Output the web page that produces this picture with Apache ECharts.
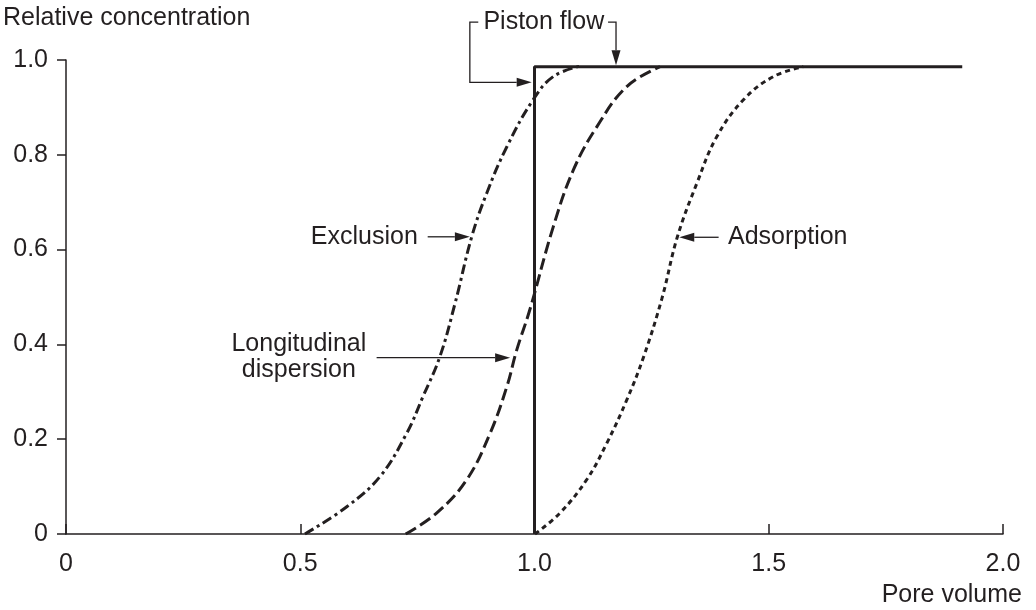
<!DOCTYPE html>
<html>
<head>
<meta charset="utf-8">
<script src="https://cdn.jsdelivr.net/npm/echarts@6/dist/echarts.min.js"></script>
<style>
  html, body { margin: 0; background: #fff; }
  #chart { width: 1036px; height: 610px; }
</style>
</head>
<body>
<div id="chart"></div>
<script>
// breakthrough curves
const pistonX = [1.0, 1.0, 1.913]
const pistonY = [0, 0.986, 0.986]

const exclusionX = [0.51, 0.60, 0.67, 0.727, 0.762, 0.798, 0.830, 0.866, 0.898, 0.941, 0.997, 1.040, 1.097]
const exclusionY = [0, 0.058, 0.121, 0.212, 0.290, 0.374, 0.485, 0.627, 0.719, 0.817, 0.916, 0.965, 0.987]

const dispersionX = [0.725, 0.791, 0.855, 0.905, 0.941, 0.962, 0.990, 1.040, 1.083, 1.133, 1.197, 1.268]
const dispersionY = [0, 0.044, 0.114, 0.212, 0.311, 0.388, 0.473, 0.648, 0.768, 0.859, 0.944, 0.986]

const adsorptionX = [1.001, 1.054, 1.111, 1.154, 1.197, 1.233, 1.272, 1.305, 1.347, 1.389, 1.446, 1.510, 1.574]
const adsorptionY = [0, 0.044, 0.114, 0.191, 0.283, 0.374, 0.497, 0.627, 0.741, 0.838, 0.916, 0.965, 0.986]

const xTicks = [0, 0.5, 1.0, 1.5, 2.0]
const yTicks = [0, 0.2, 0.4, 0.6, 0.8, 1.0]

// callout texts in data units: [text, x, y, align]
const calloutTexts = [
  ['Exclusion', 0.751, 0.627, 'right'],
  ['Longitudinal\ndispersion', 0.497, 0.373, 'center'],
  ['Adsorption', 1.413, 0.626, 'left'],
  ['Piston flow', 1.020, 1.080, 'center'],
]

// callout leaders in data units, arrowhead at the last point
const calloutPaths = [
  [[0.772, 0.627], [0.862, 0.627]],
  [[0.663, 0.372], [0.948, 0.372]],
  [[1.393, 0.626], [1.309, 0.626]],
  [[0.880, 1.080], [0.862, 1.080], [0.862, 0.953], [0.994, 0.953]],
  [[1.157, 1.080], [1.174, 1.080], [1.174, 0.989]],
]

const ink = '#231f20'
const font = "'Liberation Sans', Arial, sans-serif"
const fontSize = 25

function pairs(xs, ys) {
  return xs.map((x, i) => [x, ys[i]])
}

function tickLabel(v) {
  return v === 0 ? '0' : v.toFixed(1)
}

const chart = echarts.init(document.getElementById('chart'))

chart.setOption({
  animation: false,
  textStyle: { fontFamily: font, color: ink },
  title: [
    { text: 'Relative concentration', left: 3, top: 6, padding: 0,
      textStyle: { fontFamily: font, fontSize, fontWeight: 'normal', color: ink } },
    { text: 'Pore volume', right: 14, top: 583, padding: 0,
      textStyle: { fontFamily: font, fontSize, fontWeight: 'normal', color: ink } },
  ],
  grid: { left: 66, right: 33, top: 60, bottom: 76 },
  xAxis: {
    type: 'value',
    min: xTicks[0],
    max: xTicks[xTicks.length - 1],
    interval: 0.5,
    axisLine: { lineStyle: { color: ink, width: 1.5 } },
    axisTick: { inside: true, length: 10, lineStyle: { color: ink, width: 1.5 } },
    axisLabel: { margin: 18, fontSize, color: ink, fontFamily: font, formatter: tickLabel },
    splitLine: { show: false },
  },
  yAxis: {
    type: 'value',
    min: yTicks[0],
    max: yTicks[yTicks.length - 1],
    interval: 0.2,
    axisLine: { show: true, lineStyle: { color: ink, width: 1.5 } },
    axisTick: { show: true, length: 9, lineStyle: { color: ink, width: 1.5 } },
    axisLabel: { margin: 18, fontSize, color: ink, fontFamily: font, formatter: tickLabel },
    splitLine: { show: false },
  },
  series: [
    {
      name: 'Exclusion',
      type: 'line',
      data: pairs(exclusionX, exclusionY),
      smooth: 0.4,
      showSymbol: false,
      lineStyle: { color: ink, width: 3, type: [10, 4, 3, 4] },
    },
    {
      name: 'Longitudinal dispersion',
      type: 'line',
      data: pairs(dispersionX, dispersionY),
      smooth: 0.4,
      showSymbol: false,
      lineStyle: { color: ink, width: 3, type: [12, 5] },
    },
    {
      name: 'Adsorption',
      type: 'line',
      data: pairs(adsorptionX, adsorptionY),
      smooth: 0.4,
      showSymbol: false,
      lineStyle: { color: ink, width: 3, type: [5, 4] },
    },
    {
      name: 'Piston flow',
      type: 'line',
      data: pairs(pistonX, pistonY),
      showSymbol: false,
      lineStyle: { color: ink, width: 3, type: 'solid' },
      z: 3,
    },
  ],
})

// callouts go outside the plot area, so place them through the axes' scales
function toPx(p) {
  return chart.convertToPixel({ gridIndex: 0 }, p)
}

function arrowHead(tip, from) {
  const dx = tip[0] - from[0]
  const dy = tip[1] - from[1]
  const len = Math.hypot(dx, dy) || 1
  const ux = dx / len
  const uy = dy / len
  const l = 15
  const w = 4.5
  return [
    tip,
    [tip[0] - ux * l - uy * w, tip[1] - uy * l + ux * w],
    [tip[0] - ux * l + uy * w, tip[1] - uy * l - ux * w],
  ]
}

function buildCallouts() {
  const elements = []
  calloutPaths.forEach((path) => {
    const pts = path.map(toPx)
    const tip = pts[pts.length - 1]
    const prev = pts[pts.length - 2]
    const head = arrowHead(tip, prev)
    // stop the shaft where the head begins
    const shaft = pts.slice(0, -1).concat([[(head[1][0] + head[2][0]) / 2, (head[1][1] + head[2][1]) / 2]])
    elements.push({
      type: 'polyline',
      silent: true,
      shape: { points: shaft },
      style: { stroke: ink, lineWidth: 1.3, fill: null },
    })
    elements.push({
      type: 'polygon',
      silent: true,
      shape: { points: head },
      style: { fill: ink },
    })
  })
  calloutTexts.forEach(([text, x, y, align]) => {
    const [px, py] = toPx([x, y])
    elements.push({
      type: 'text',
      silent: true,
      x: px,
      y: py,
      style: {
        text,
        align,
        verticalAlign: 'middle',
        fontSize,
        fontFamily: font,
        lineHeight: 26,
        fill: ink,
      },
    })
  })
  chart.setOption({ graphic: { elements } }, { replaceMerge: ['graphic'] })
}

buildCallouts()

window.addEventListener('resize', () => {
  chart.resize()
  buildCallouts()
})
</script>
</body>
</html>
